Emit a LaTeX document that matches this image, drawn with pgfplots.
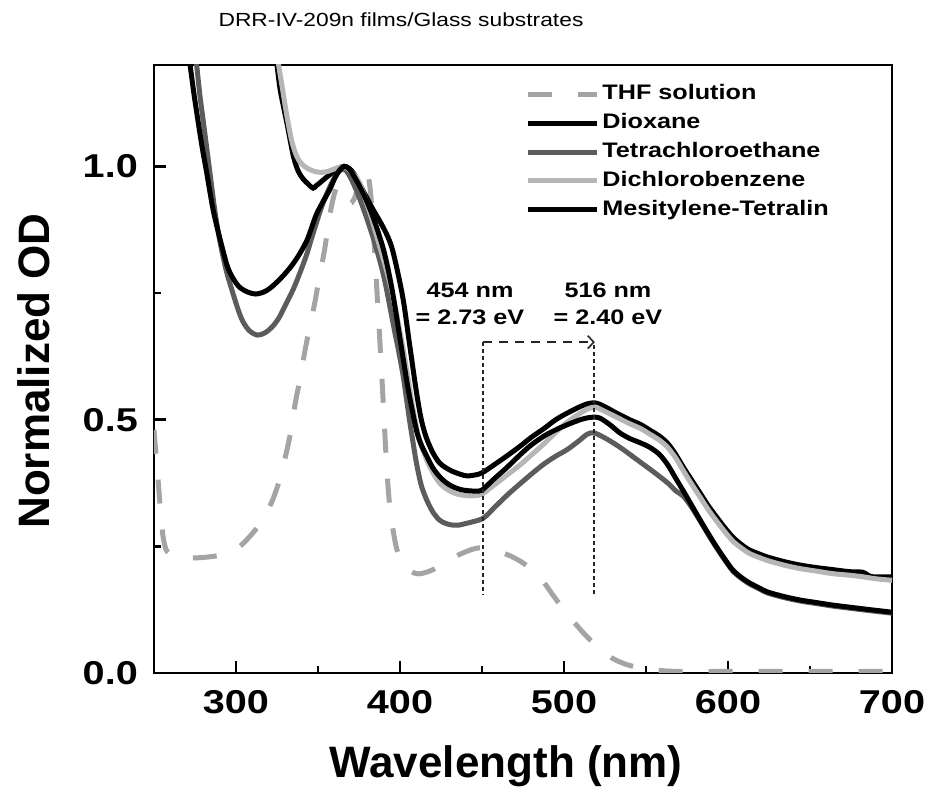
\documentclass[border=0pt]{standalone}
\usepackage{graphicx}
\usepackage{pgfplots}
\pgfplotsset{compat=1.18}
\usetikzlibrary{arrows.meta}
\usepackage{fontspec}
\setmainfont{Liberation Sans}
\newcommand\hs[1]{\scalebox{1.2}[1]{#1}}
\newcommand\tickfont{\bfseries\fontsize{33bp}{36bp}\selectfont}
\newcommand\labfont{\bfseries\fontsize{44bp}{48bp}\selectfont}
\newcommand\legfont{\bfseries\fontsize{21bp}{24bp}\selectfont}
\newcommand\titfont{\fontsize{19bp}{22bp}\selectfont}
\definecolor{thf}{HTML}{A4A4A4}
\definecolor{tce}{HTML}{5C5C5C}
\definecolor{dcb}{HTML}{B6B6B6}
\begin{document}
\begin{tikzpicture}
\path (-154bp,-135bp) rectangle (776bp,673bp);
\begin{axis}[
  scale only axis, width=738bp, height=608bp,
  xmin=250, xmax=700, ymin=0, ymax=1.2,
  xtick={300,400,500,600,700}, xticklabels={\hs{300},\hs{400},\hs{500},\hs{600},\hs{700}},
  minor xtick={250,350,450,550,650},
  ytick={0,0.5,1.0}, yticklabels={\hs{0.0},\hs{0.5},\hs{1.0}}, minor ytick={0.25,0.75},
  tick align=inside, xtick pos=bottom, ytick pos=left,
  major tick length=12bp, minor tick length=7bp,
  major tick style={black, line width=2.6bp},
  minor tick style={black, line width=2.4bp},
  axis line style={line width=2.6bp},
  ticklabel style={font=\tickfont},
  xticklabel style={inner sep=0pt, yshift=-17bp},
  yticklabel style={inner sep=0pt, xshift=-16bp},
  legend cell align=left,
  legend image code/.code={\draw[#1] (0bp,0bp) -- (69bp,0bp);},
  legend style={draw=none, fill=none, inner sep=0pt, outer sep=0pt,
    at={(rel axis cs:0.504,0.968)}, anchor=north west, row sep=8.8bp,
    nodes={inner ysep=0pt, inner xsep=2.5bp, text height=15.5bp, text depth=4.5bp, font=\legfont}},
]
% THF solution
\addplot[thf, line width=5bp, dash pattern=on 24bp off 26bp, smooth] coordinates {
(250,0.48)(251,0.44)(252.5,0.38)(254,0.32)(255.5,0.27)(258,0.24)(265,0.228)(272,0.227)(280,0.228)(290,0.232)(296,0.238)(302,0.249)(308,0.268)(315,0.296)(320,0.325)(323,0.347)(326,0.375)(328,0.40)(330,0.425)(333,0.47)(336,0.53)(339,0.58)(342,0.635)(345,0.685)(348,0.73)(351,0.785)(354,0.835)(357,0.9)(359.5,0.94)(361.5,0.958)(363.5,0.952)(366,0.935)(369,0.925)(372,0.935)(375,0.965)(378,0.995)(380,0.99)(382,0.95)(384,0.86)(386,0.75)(388,0.64)(390,0.52)(392,0.40)(394,0.32)(396,0.278)(398,0.245)(402,0.212)(410,0.196)(418,0.201)(425,0.213)(435,0.232)(445,0.245)(452,0.247)(460,0.24)(468,0.23)(476,0.215)(485,0.19)(493,0.155)(500,0.124)(507,0.097)(513,0.075)(521,0.05)(529,0.03)(537,0.018)(545,0.011)(555,0.006)(570,0.003)(600,0.003)(700,0.003)};
\addlegendentry{\hs{THF solution}}
% Dioxane
\addplot[black, line width=5bp, smooth] coordinates {
(323,1.25)(325,1.2)(327,1.15)(331,1.086)(335,1.02)(338,0.99)(341,0.975)(344,0.965)(347,0.957)(349,0.962)(351,0.967)(355,0.978)(359,0.988)(363,0.997)(366,1.0)(369,0.996)(372,0.985)(377,0.955)(383,0.918)(388,0.89)(392,0.865)(395,0.84)(398,0.80)(402,0.736)(406,0.645)(410,0.555)(413,0.50)(416,0.465)(420,0.435)(424,0.415)(428,0.405)(432,0.398)(437,0.392)(441,0.389)(446,0.391)(450,0.395)(457,0.41)(465,0.428)(473,0.447)(480,0.465)(488,0.483)(495,0.50)(502,0.513)(510,0.526)(515,0.532)(519,0.533)(522,0.530)(527,0.522)(532,0.513)(540,0.50)(547,0.49)(552,0.48)(558,0.468)(563,0.454)(568,0.432)(573,0.405)(578,0.38)(583,0.355)(588,0.33)(593,0.308)(598,0.287)(603,0.268)(608,0.254)(613,0.243)(619,0.235)(624,0.229)(634,0.22)(644,0.213)(654,0.208)(664,0.204)(674,0.2)(682,0.199)(685,0.194)(688,0.19)(700,0.19)};
\addlegendentry{\hs{Dioxane}}
% Tetrachloroethane
\addplot[tce, line width=5bp, smooth] coordinates {
(274,1.25)(276,1.2)(278,1.14)(280,1.09)(282,1.04)(284,0.99)(287,0.915)(290,0.855)(294,0.795)(297.5,0.756)(301,0.72)(304,0.695)(308,0.676)(313,0.667)(318,0.672)(322,0.683)(326,0.70)(330,0.725)(335,0.758)(339,0.79)(343,0.825)(346,0.857)(349,0.888)(352,0.918)(355.5,0.947)(358.5,0.968)(361.5,0.985)(364,0.993)(366,0.994)(368,0.988)(371,0.97)(375,0.94)(380,0.895)(384,0.855)(388,0.81)(391,0.77)(394,0.72)(397,0.67)(399,0.638)(402,0.585)(404,0.54)(406,0.495)(408,0.454)(410,0.415)(413,0.37)(416.5,0.34)(420,0.318)(424,0.302)(428,0.295)(432,0.292)(436,0.292)(440,0.295)(445,0.299)(451,0.306)(458,0.328)(465,0.35)(473,0.373)(481,0.395)(488,0.413)(495,0.428)(502,0.441)(509,0.458)(514,0.471)(517,0.474)(520,0.472)(526,0.462)(532,0.45)(537,0.439)(542,0.427)(550,0.408)(555,0.396)(559,0.386)(564,0.373)(568,0.36)(573,0.348)(578,0.326)(583,0.3)(588,0.273)(593,0.247)(598,0.223)(603,0.201)(608,0.187)(613,0.176)(619,0.166)(624,0.158)(634,0.149)(644,0.142)(654,0.137)(664,0.132)(674,0.128)(684,0.124)(692,0.121)(700,0.118)};
\addlegendentry{\hs{Tetrachloroethane}}
% Dichlorobenzene
\addplot[dcb, line width=5bp, smooth] coordinates {
(324,1.25)(326,1.2)(328,1.16)(331,1.10)(334,1.05)(337,1.02)(340,1.005)(344,0.995)(348,0.99)(352,0.988)(356,0.99)(360,0.995)(364,0.999)(367,0.998)(370,0.99)(374,0.975)(378,0.945)(382,0.905)(386,0.86)(390,0.815)(393,0.78)(396,0.74)(399,0.69)(402,0.638)(405,0.58)(408,0.52)(411,0.47)(414,0.44)(417,0.415)(421,0.39)(425,0.372)(430,0.36)(435,0.353)(441,0.35)(446,0.35)(450,0.353)(457,0.37)(465,0.39)(473,0.41)(480,0.43)(488,0.453)(495,0.475)(502,0.495)(510,0.513)(515,0.522)(519,0.525)(522,0.521)(527,0.513)(532,0.505)(540,0.492)(547,0.482)(552,0.472)(558,0.46)(563,0.446)(568,0.425)(573,0.398)(578,0.372)(583,0.347)(588,0.322)(593,0.30)(598,0.279)(603,0.26)(608,0.247)(613,0.236)(619,0.228)(624,0.222)(634,0.213)(644,0.206)(654,0.201)(664,0.196)(674,0.193)(682,0.19)(690,0.186)(700,0.183)};
\addlegendentry{\hs{Dichlorobenzene}}
% Mesitylene-Tetralin
\addplot[black, line width=5bp, smooth] coordinates {
(270,1.25)(272,1.2)(274.5,1.14)(277,1.086)(279.5,1.035)(282,0.99)(286,0.915)(290,0.86)(294.5,0.805)(298,0.78)(302,0.762)(307,0.752)(312,0.748)(317,0.752)(321,0.76)(327,0.778)(333,0.80)(338,0.823)(343,0.852)(346,0.878)(349,0.905)(353,0.93)(357,0.953)(360,0.975)(363,0.992)(366,1.0)(369,0.995)(373,0.975)(377,0.95)(383,0.905)(390,0.835)(395,0.76)(400,0.66)(405,0.56)(410,0.48)(413,0.45)(416,0.43)(420,0.405)(424,0.388)(428,0.376)(432,0.368)(437,0.362)(441,0.36)(446,0.359)(450,0.361)(457,0.382)(465,0.405)(473,0.43)(480,0.45)(488,0.468)(495,0.48)(502,0.49)(510,0.5)(515,0.504)(518,0.505)(522,0.503)(528,0.49)(534,0.474)(540,0.463)(546,0.455)(552,0.446)(558,0.432)(563,0.412)(568,0.385)(573,0.358)(578,0.33)(583,0.302)(588,0.275)(593,0.249)(598,0.225)(603,0.203)(608,0.189)(613,0.178)(619,0.168)(624,0.16)(634,0.151)(644,0.144)(654,0.139)(664,0.134)(674,0.13)(684,0.126)(692,0.123)(700,0.12)};
\addlegendentry{\hs{Mesitylene-Tetralin}}
% annotations
\draw[black!85, line width=1.6bp, dash pattern=on 4bp off 3bp] (axis cs:450.6,0.653) -- (axis cs:450.6,0.154);
\draw[black!85, line width=1.6bp, dash pattern=on 4bp off 3bp] (axis cs:518.3,0.648) -- (axis cs:518.3,0.154);
\draw[black!85, line width=1.6bp, dash pattern=on 9bp off 7bp, -{Straight Barb[length=6bp,width=13bp,line width=1.6bp]}] (axis cs:450.6,0.653) -- (axis cs:518.8,0.653);
\node[anchor=base, font=\legfont, inner sep=0pt] at (axis cs:442.7,0.742) {\hs{454 nm}};
\node[anchor=base, font=\legfont, inner sep=0pt] at (axis cs:442.7,0.687) {\hs{= 2.73 eV}};
\node[anchor=base, font=\legfont, inner sep=0pt] at (axis cs:526.8,0.742) {\hs{516 nm}};
\node[anchor=base, font=\legfont, inner sep=0pt] at (axis cs:526.8,0.687) {\hs{= 2.40 eV}};
\end{axis}
\node[anchor=base, font=\titfont, inner sep=0pt] at (247bp,646bp) {\hs{DRR-IV-209n films/Glass substrates}};
\node[anchor=base, font=\labfont, inner sep=0pt] at (352bp,-104bp) {Wavelength (nm)};
\node[anchor=base, rotate=90, font=\labfont, inner sep=0pt] at (-104bp,302bp) {Normalized OD};
\end{tikzpicture}
\end{document}
